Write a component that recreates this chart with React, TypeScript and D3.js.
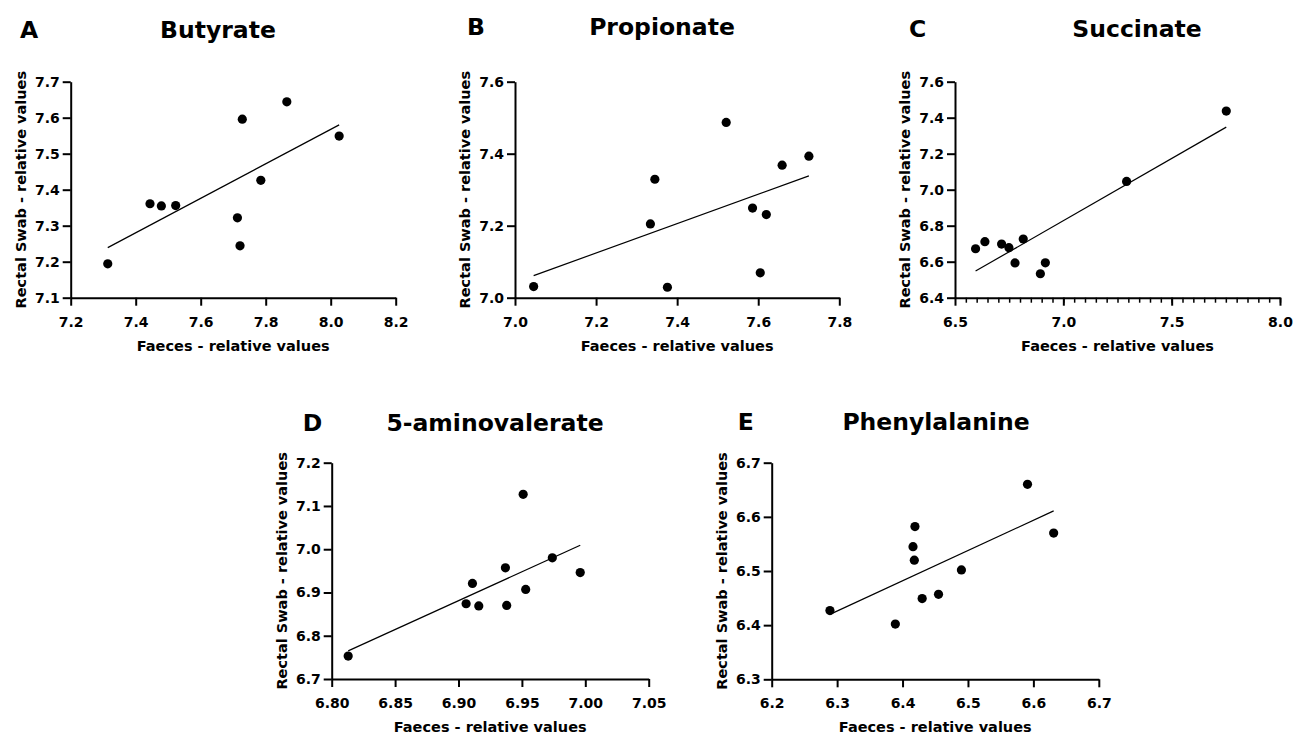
import * as d3 from "d3";
import { useRef, useEffect } from "react";

// values: faeces (x) vs rectal swab (y)
const butyrateFaeces = [7.314, 7.444, 7.479, 7.523, 7.713, 7.721, 7.728, 7.785, 7.865, 8.026];
const butyrateSwab = [7.194, 7.361, 7.355, 7.356, 7.322, 7.244, 7.596, 7.426, 7.644, 7.549];

const propionateFaeces = [7.046, 7.334, 7.345, 7.376, 7.521, 7.586, 7.605, 7.62, 7.659, 7.725];
const propionateSwab = [7.031, 7.205, 7.329, 7.029, 7.487, 7.249, 7.069, 7.231, 7.368, 7.393];

const succinateFaeces = [6.595, 6.638, 6.715, 6.749, 6.777, 6.815, 6.894, 6.917, 7.292, 7.752];
const succinateSwab = [6.672, 6.711, 6.698, 6.678, 6.593, 6.726, 6.533, 6.594, 7.046, 7.437];

const aminovalerateFaeces = [6.813, 6.906, 6.911, 6.916, 6.937, 6.938, 6.951, 6.953, 6.974, 6.996];
const aminovalerateSwab = [6.753, 6.874, 6.921, 6.869, 6.957, 6.87, 7.127, 6.907, 6.98, 6.946];

const phenylalanineFaeces = [6.289, 6.389, 6.416, 6.418, 6.419, 6.43, 6.455, 6.49, 6.591, 6.631];
const phenylalanineSwab = [6.427, 6.402, 6.545, 6.52, 6.582, 6.449, 6.457, 6.502, 6.66, 6.57];

// axis ticks
const butyrateXTicks = [7.2, 7.4, 7.6, 7.8, 8.0, 8.2];
const butyrateYTicks = [7.1, 7.2, 7.3, 7.4, 7.5, 7.6, 7.7];
const propionateXTicks = [7.0, 7.2, 7.4, 7.6, 7.8];
const propionateYTicks = [7.0, 7.2, 7.4, 7.6];
const succinateXTicks = [6.5, 7.0, 7.5, 8.0];
const succinateXMinor = d3.range(6.55, 8.0, 0.05);
const succinateYTicks = [6.4, 6.6, 6.8, 7.0, 7.2, 7.4, 7.6];
const aminovalerateXTicks = [6.8, 6.85, 6.9, 6.95, 7.0, 7.05];
const aminovalerateYTicks = [6.7, 6.8, 6.9, 7.0, 7.1, 7.2];
const phenylalanineXTicks = [6.2, 6.3, 6.4, 6.5, 6.6, 6.7];
const phenylalanineYTicks = [6.3, 6.4, 6.5, 6.6, 6.7];

const titles = ["Butyrate", "Propionate", "Succinate", "5-aminovalerate", "Phenylalanine"];
const letters = ["A", "B", "C", "D", "E"];

const xLabel = "Faeces - relative values";
const yLabel = "Rectal Swab - relative values";
const FONT = "'DejaVu Sans', sans-serif";

// pixel layout of each panel (axis box, title placement)
const layouts = [
  { x0: 70.7, x1: 395.7, y0: 81.7, y1: 297.7, titleX: 218, letterX: 20, titleY: 38 },
  { x0: 515, x1: 839.3, y0: 81.7, y1: 297.7, titleX: 662, letterX: 467, titleY: 34.5 },
  { x0: 955, x1: 1280, y0: 81.7, y1: 297.7, titleX: 1137, letterX: 909, titleY: 36.5 },
  { x0: 331.7, x1: 648.7, y0: 462.7, y1: 679, titleX: 495, letterX: 302.7, titleY: 430.5 },
  { x0: 771.7, x1: 1098.8, y0: 462.7, y1: 679.3, titleX: 936, letterX: 737.7, titleY: 430 },
];

const panels = [
  { xs: butyrateFaeces, ys: butyrateSwab, xTicks: butyrateXTicks, yTicks: butyrateYTicks, xFmt: ".1f" },
  { xs: propionateFaeces, ys: propionateSwab, xTicks: propionateXTicks, yTicks: propionateYTicks, xFmt: ".1f" },
  { xs: succinateFaeces, ys: succinateSwab, xTicks: succinateXTicks, yTicks: succinateYTicks, xFmt: ".1f", minor: succinateXMinor },
  { xs: aminovalerateFaeces, ys: aminovalerateSwab, xTicks: aminovalerateXTicks, yTicks: aminovalerateYTicks, xFmt: ".2f" },
  { xs: phenylalanineFaeces, ys: phenylalanineSwab, xTicks: phenylalanineXTicks, yTicks: phenylalanineYTicks, xFmt: ".1f" },
];

function linearFit(xs: number[], ys: number[]) {
  const mx = d3.mean(xs)!;
  const my = d3.mean(ys)!;
  let sxy = 0;
  let sxx = 0;
  xs.forEach((x, i) => {
    sxy += (x - mx) * (ys[i] - my);
    sxx += (x - mx) * (x - mx);
  });
  const slope = sxy / sxx;
  return (x: number) => my + slope * (x - mx);
}

function styleAxis(g: any) {
  g.select(".domain").attr("stroke", "#000").attr("stroke-width", 2);
  g.selectAll(".tick line").attr("stroke", "#000").attr("stroke-width", 2);
  g.selectAll(".tick text")
    .attr("font-family", FONT)
    .attr("font-weight", "bold")
    .attr("font-size", 14)
    .attr("fill", "#000");
}

function Panel({ idx }: { idx: number }) {
  const gx = useRef<SVGGElement>(null);
  const gxMinor = useRef<SVGGElement>(null);
  const gy = useRef<SVGGElement>(null);
  const p = panels[idx];
  const l = layouts[idx];

  const x = d3
    .scaleLinear()
    .domain([p.xTicks[0], p.xTicks[p.xTicks.length - 1]])
    .range([l.x0, l.x1]);
  const y = d3
    .scaleLinear()
    .domain([p.yTicks[0], p.yTicks[p.yTicks.length - 1]])
    .range([l.y1, l.y0]);

  useEffect(() => {
    const xf = d3.format(p.xFmt);
    const yf = d3.format(".1f");
    d3.select(gx.current)
      .call(
        d3.axisBottom(x).tickValues(p.xTicks).tickSize(8).tickSizeOuter(0).tickPadding(11).tickFormat((d: any) => xf(d))
      )
      .call(styleAxis);
    d3.select(gy.current)
      .call(
        d3.axisLeft(y).tickValues(p.yTicks).tickSize(8).tickSizeOuter(0).tickPadding(3).tickFormat((d: any) => yf(d))
      )
      .call(styleAxis);
    if (p.minor && gxMinor.current) {
      const gm = d3.select(gxMinor.current);
      gm.call(d3.axisBottom(x).tickValues(p.minor).tickSize(5).tickFormat(() => ""));
      gm.select(".domain").remove();
      gm.selectAll(".tick line").attr("stroke", "#000").attr("stroke-width", 1.5);
    }
  }, [idx]);

  const fit = linearFit(p.xs, p.ys);
  const xmin = d3.min(p.xs)!;
  const xmax = d3.max(p.xs)!;

  return (
    <g>
      <text x={l.letterX} y={l.titleY} fontFamily={FONT} fontWeight="bold" fontSize={23.5}>
        {letters[idx]}
      </text>
      <text x={l.titleX} y={l.titleY} textAnchor="middle" fontFamily={FONT} fontWeight="bold" fontSize={23.5}>
        {titles[idx]}
      </text>
      <line
        x1={x(xmin)}
        y1={y(fit(xmin))}
        x2={x(xmax)}
        y2={y(fit(xmax))}
        stroke="#000"
        strokeWidth={1.2}
      />
      {p.xs.map((v, i) => (
        <circle key={i} cx={x(v)} cy={y(p.ys[i])} r={4.6} fill="#000" />
      ))}
      {p.minor && <g ref={gxMinor} transform={`translate(0,${l.y1})`} />}
      <g ref={gx} transform={`translate(0,${l.y1})`} />
      <g ref={gy} transform={`translate(${l.x0},0)`} />
      <text
        x={(l.x0 + l.x1) / 2}
        y={l.y1 + 53}
        textAnchor="middle"
        fontFamily={FONT}
        fontWeight="bold"
        fontSize={14.5}
      >
        {xLabel}
      </text>
      <text
        transform={`translate(${l.x0 - 45},${(l.y0 + l.y1) / 2}) rotate(-90)`}
        textAnchor="middle"
        fontFamily={FONT}
        fontWeight="bold"
        fontSize={14.5}
      >
        {yLabel}
      </text>
    </g>
  );
}

export default function App() {
  return (
    <svg
      width={1304}
      height={736}
      style={{ position: "absolute", left: 0, top: 0, background: "#fff" }}
    >
      <rect width={1304} height={736} fill="#fff" />
      {panels.map((_, i) => (
        <Panel key={i} idx={i} />
      ))}
    </svg>
  );
}
